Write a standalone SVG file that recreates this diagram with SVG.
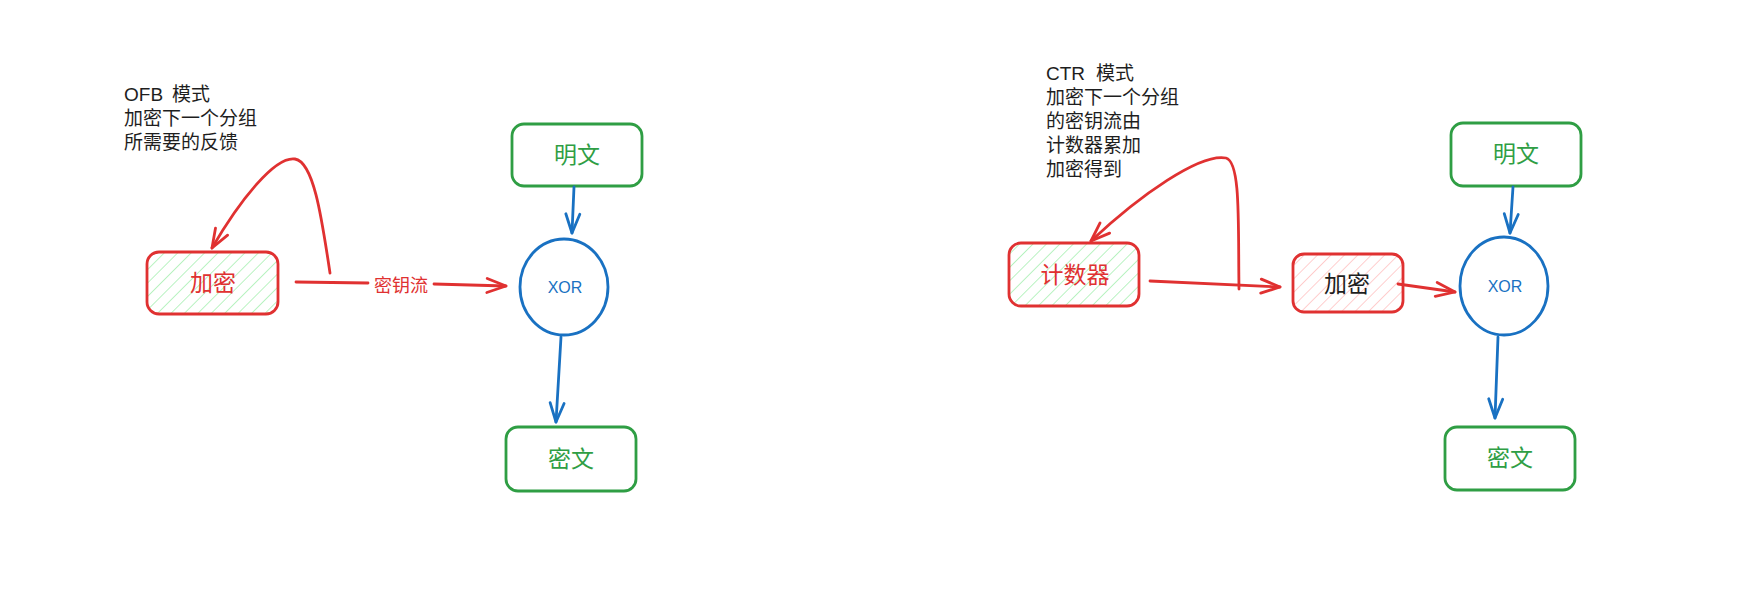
<svg xmlns="http://www.w3.org/2000/svg" width="1748" height="609" viewBox="0 0 1748 609">
  <style>
    .box { stroke-width: 2.8; stroke-linejoin: round; }
    .green { stroke: #2f9e44; fill: #ffffff; }
    .red { stroke: #e03131; }
    .blue { stroke: #1971c2; fill: #ffffff; }
    .label { font-family: "Noto Sans CJK SC", "Liberation Sans", sans-serif; font-size: 23px; text-anchor: middle; dominant-baseline: central; }
    .note { font-family: "Liberation Sans", "Noto Sans CJK SC", sans-serif; font-size: 19px; fill: #1e1e1e; }
    .xor { font-family: "Liberation Sans", sans-serif; font-size: 16px; fill: #1971c2; text-anchor: middle; dominant-baseline: central; }
    .edge { fill: none; stroke-width: 2.8; stroke-linecap: round; stroke-linejoin: round; }
  </style>
  <defs>
    <pattern id="hatchGreen" patternUnits="userSpaceOnUse" width="9.5" height="9.5" patternTransform="rotate(45)">
      <line x1="0" y1="0" x2="0" y2="9.5" stroke="#b2f2bb" stroke-width="1.8"/>
    </pattern>
    <pattern id="hatchPink" patternUnits="userSpaceOnUse" width="9.5" height="9.5" patternTransform="rotate(45)">
      <line x1="0" y1="0" x2="0" y2="9.5" stroke="#ffc9c9" stroke-width="1.8"/>
    </pattern>
    <marker id="arrowRed" markerUnits="userSpaceOnUse" markerWidth="30" markerHeight="30" refX="0" refY="0" viewBox="-22 -15 30 30" orient="auto" overflow="visible">
      <path d="M -19 -7 L 0 0 L -19 7" fill="none" stroke="#e03131" stroke-width="2.8" stroke-linecap="round" stroke-linejoin="round"/>
    </marker>
    <marker id="arrowBlue" markerUnits="userSpaceOnUse" markerWidth="30" markerHeight="30" refX="0" refY="0" viewBox="-22 -15 30 30" orient="auto" overflow="visible">
      <path d="M -19 -7 L 0 0 L -19 7" fill="none" stroke="#1971c2" stroke-width="2.8" stroke-linecap="round" stroke-linejoin="round"/>
    </marker>
  </defs>

  <rect width="1748" height="609" fill="#ffffff"/>

  <!-- OFB side -->
  <g id="ofb-note">
    <text class="note" x="124" y="101">OFB<tspan x="172">模式</tspan></text>
    <text class="note" x="124" y="125">加密下一个分组</text>
    <text class="note" x="124" y="149">所需要的反馈</text>
  </g>

  <g id="ofb-encrypt">
    <rect x="147" y="252" width="131" height="62" rx="12" fill="url(#hatchGreen)"/>
    <rect class="box red" x="147" y="252" width="131" height="62" rx="12" fill="none"/>
    <text class="label" x="213" y="281" fill="#e03131">加密</text>
  </g>

  <g id="ofb-plaintext">
    <rect class="box green" x="512" y="124" width="130" height="62" rx="12"/>
    <text class="label" x="577" y="153" fill="#2f9e44">明文</text>
  </g>

  <g id="ofb-xor">
    <ellipse class="box blue" cx="564" cy="287" rx="44" ry="48"/>
    <text class="xor" x="565" y="287">XOR</text>
  </g>

  <g id="ofb-ciphertext">
    <rect class="box green" x="506" y="427" width="130" height="64" rx="12"/>
    <text class="label" x="571" y="457" fill="#2f9e44">密文</text>
  </g>

  <!-- CTR side -->
  <g id="ctr-note">
    <text class="note" x="1046" y="80">CTR<tspan x="1096">模式</tspan></text>
    <text class="note" x="1046" y="104">加密下一个分组</text>
    <text class="note" x="1046" y="128">的密钥流由</text>
    <text class="note" x="1046" y="152">计数器累加</text>
    <text class="note" x="1046" y="176">加密得到</text>
  </g>

  <g id="ctr-counter">
    <rect x="1009" y="243" width="130" height="63" rx="12" fill="url(#hatchGreen)"/>
    <rect class="box red" x="1009" y="243" width="130" height="63" rx="12" fill="none"/>
    <text class="label" x="1075" y="273" fill="#e03131">计数器</text>
  </g>

  <g id="ctr-encrypt">
    <rect x="1293" y="254" width="110" height="58" rx="11" fill="url(#hatchPink)"/>
    <rect class="box red" x="1293" y="254" width="110" height="58" rx="11" fill="none"/>
    <text class="label" x="1347" y="282" fill="#1e1e1e">加密</text>
  </g>

  <g id="ctr-xor">
    <ellipse class="box blue" cx="1504" cy="286" rx="44" ry="49"/>
    <text class="xor" x="1505" y="286">XOR</text>
  </g>

  <g id="ctr-plaintext">
    <rect class="box green" x="1451" y="123" width="130" height="63" rx="12"/>
    <text class="label" x="1516" y="152" fill="#2f9e44">明文</text>
  </g>

  <g id="ctr-ciphertext">
    <rect class="box green" x="1445" y="427" width="130" height="63" rx="12"/>
    <text class="label" x="1510" y="456" fill="#2f9e44">密文</text>
  </g>

  <!-- connectors -->
  <g id="connectors">
    <!-- OFB: feedback loop and keystream -->
    <path class="edge red" d="M 330 273 C 322 220, 314 162, 295 159 C 275 156, 240 200, 212 248" marker-end="url(#arrowRed)"/>
    <path class="edge red" d="M 296 282 L 368 283 M 434 284 L 506 286" marker-end="url(#arrowRed)"/>
    <text x="401" y="284" fill="#e03131" font-family="Noto Sans CJK SC, Liberation Sans, sans-serif" font-size="18" text-anchor="middle" dominant-baseline="central">密钥流</text>
    <path class="edge blue" d="M 574 187 L 572 233" marker-end="url(#arrowBlue)"/>
    <path class="edge blue" d="M 561 337 L 556 422" marker-end="url(#arrowBlue)"/>

    <!-- CTR: counter loop and keystream -->
    <path class="edge red" d="M 1239 289 C 1238 225, 1241 162, 1226 158 C 1200 153, 1140 195, 1091 241" marker-end="url(#arrowRed)"/>
    <path class="edge red" d="M 1150 281 L 1280 287" marker-end="url(#arrowRed)"/>
    <path class="edge red" d="M 1398 284 L 1455 292" marker-end="url(#arrowRed)"/>
    <path class="edge blue" d="M 1513 187 L 1510 233" marker-end="url(#arrowBlue)"/>
    <path class="edge blue" d="M 1498 337 L 1495 418" marker-end="url(#arrowBlue)"/>
  </g>
</svg>
